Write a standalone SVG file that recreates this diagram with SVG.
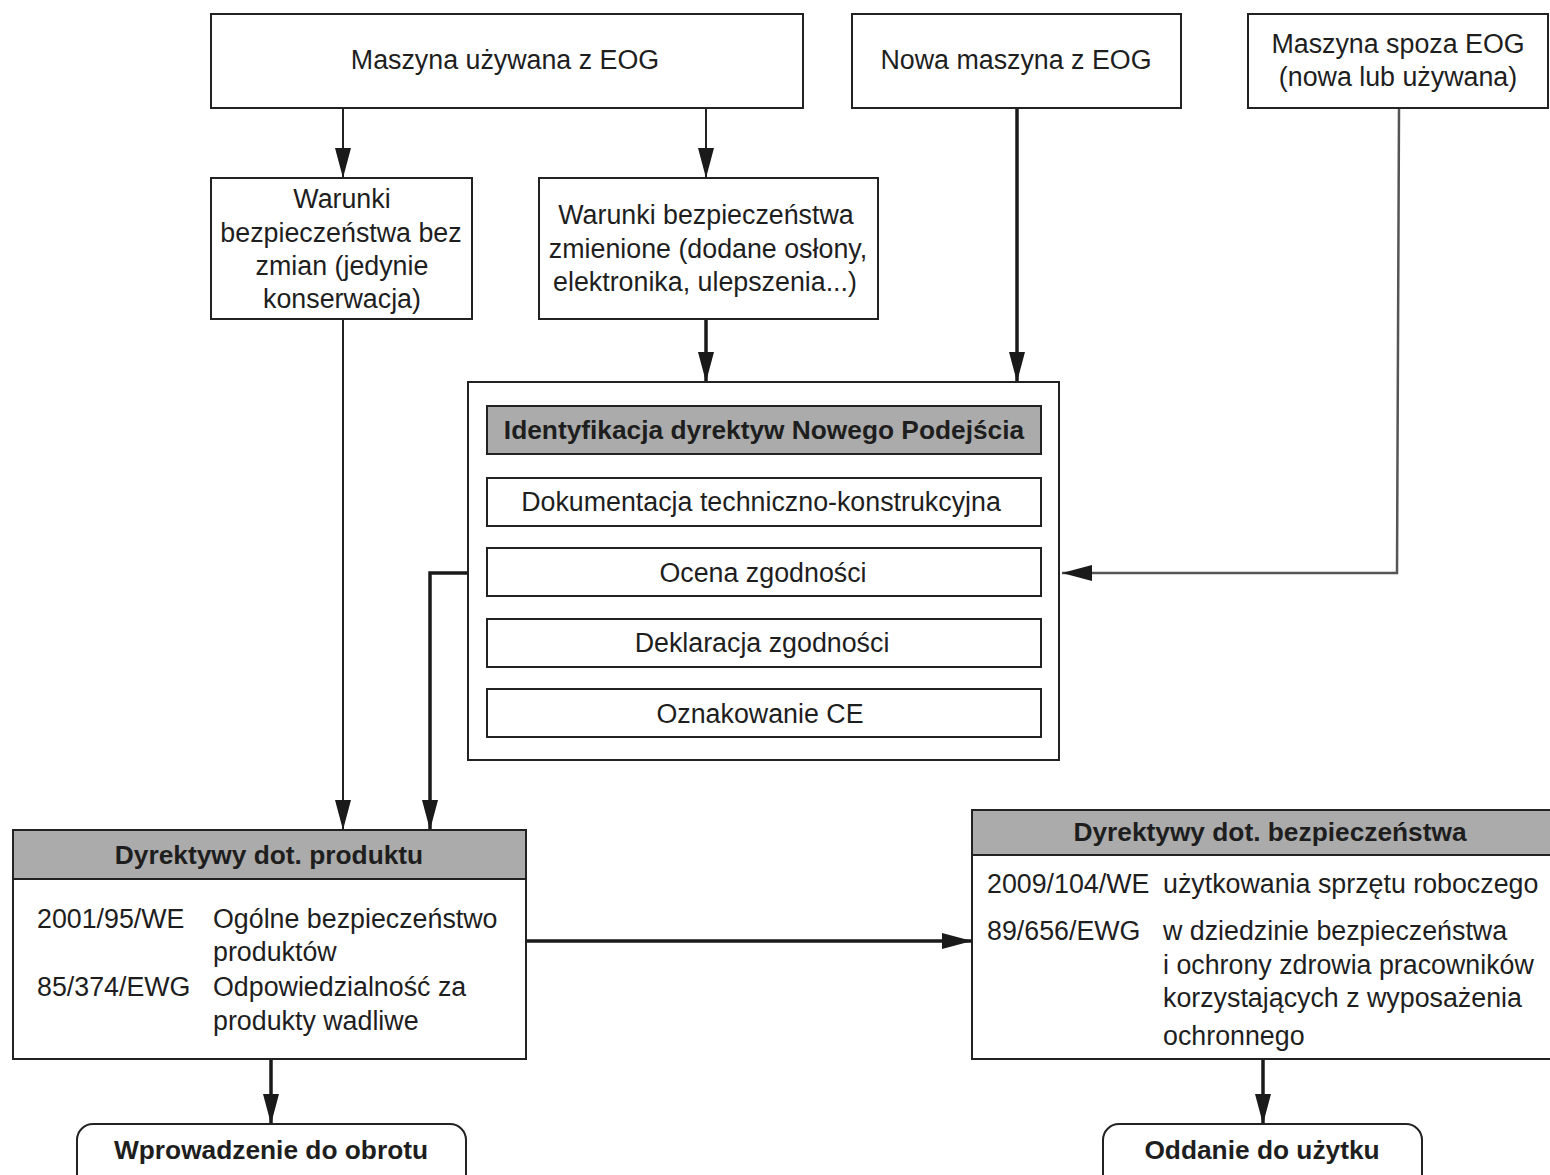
<svg xmlns="http://www.w3.org/2000/svg" width="1550" height="1175" viewBox="0 0 1550 1175">
<style>
text{font-family:"Liberation Sans",Arial,Helvetica,sans-serif;font-size:26.8px;fill:#1e1e1e}
.c{text-anchor:middle}
.b{font-weight:bold;font-size:26.3px}
.box{fill:#fff;stroke:#222;stroke-width:2}
.hdr{fill:#ababab;stroke:#222;stroke-width:2}
.thin{fill:none;stroke:#222;stroke-width:2}
.thick{fill:none;stroke:#1a1a1a;stroke-width:3.5}
.grey{fill:none;stroke:#555;stroke-width:2.5}
</style>
<defs>
<marker id="ah" markerUnits="userSpaceOnUse" markerWidth="30" markerHeight="16" refX="30" refY="8" orient="auto">
<path d="M0,0 L30,8 L0,16 z" fill="#1a1a1a"/>
</marker>
</defs>
<rect width="1550" height="1175" fill="#fff"/>

<g id="connectors">
<path class="thin" d="M343,108 V178" marker-end="url(#ah)"/>
<path class="thin" d="M706,108 V178" marker-end="url(#ah)"/>
<path class="thick" d="M706,319 V382" marker-end="url(#ah)"/>
<path class="thick" d="M1017,108 V382" marker-end="url(#ah)"/>
<path class="grey" d="M1399,108 L1397,573 H1062" marker-end="url(#ah)"/>
<path class="thin" d="M343,319 V830" marker-end="url(#ah)"/>
<path class="thick" d="M468,573 H430 V830" marker-end="url(#ah)"/>
<path class="thick" d="M526,941 H972" marker-end="url(#ah)"/>
<path class="thick" d="M271,1059 V1124" marker-end="url(#ah)"/>
<path class="thick" d="M1263,1059 V1124" marker-end="url(#ah)"/>
</g>

<g id="n-uzywana">
<rect class="box" x="211" y="14" width="592" height="94"/>
<text class="c" x="505" y="69">Maszyna używana z EOG</text>
</g>
<g id="n-nowa">
<rect class="box" x="852" y="14" width="329" height="94"/>
<text class="c" x="1016" y="69">Nowa maszyna z EOG</text>
</g>
<g id="n-spoza">
<rect class="box" x="1248" y="14" width="300" height="94"/>
<text class="c" x="1398" y="53">Maszyna spoza EOG</text>
<text class="c" x="1398" y="86">(nowa lub używana)</text>
</g>
<g id="n-bezzmian">
<rect class="box" x="211" y="178" width="261" height="141"/>
<text class="c" x="342" y="208">Warunki</text>
<text class="c" x="341" y="242">bezpieczeństwa bez</text>
<text class="c" x="342" y="275">zmian (jedynie</text>
<text class="c" x="342" y="308">konserwacja)</text>
</g>
<g id="n-zmienione">
<rect class="box" x="539" y="178" width="339" height="141"/>
<text class="c" x="706" y="224">Warunki bezpieczeństwa</text>
<text class="c" x="708" y="258">zmienione (dodane osłony,</text>
<text class="c" x="705" y="291">elektronika, ulepszenia...)</text>
</g>
<g id="n-identyfikacja">
<rect class="box" x="468" y="382" width="591" height="378"/>
<rect class="hdr" x="487" y="406" width="554" height="48"/>
<text class="c b" x="764" y="439">Identyfikacja dyrektyw Nowego Podejścia</text>
<rect class="box" x="487" y="478" width="554" height="48"/>
<text class="c" x="761" y="511">Dokumentacja techniczno-konstrukcyjna</text>
<rect class="box" x="487" y="548" width="554" height="48"/>
<text class="c" x="763" y="582">Ocena zgodności</text>
<rect class="box" x="487" y="619" width="554" height="48"/>
<text class="c" x="762" y="652">Deklaracja zgodności</text>
<rect class="box" x="487" y="689" width="554" height="48"/>
<text class="c" x="760" y="723">Oznakowanie CE</text>
</g>
<g id="n-produkt">
<rect class="box" x="13" y="830" width="513" height="229"/>
<rect class="hdr" x="13" y="830" width="513" height="49"/>
<text class="c b" x="269" y="864">Dyrektywy dot. produktu</text>
<text x="37" y="928">2001/95/WE</text>
<text x="213" y="928">Ogólne bezpieczeństwo</text>
<text x="213" y="961">produktów</text>
<text x="37" y="996">85/374/EWG</text>
<text x="213" y="996">Odpowiedzialność za</text>
<text x="213" y="1030">produkty wadliwe</text>
</g>
<g id="n-bezpieczenstwo">
<rect class="box" x="972" y="810" width="600" height="249"/>
<rect class="hdr" x="972" y="810" width="600" height="45"/>
<text class="c b" x="1270" y="841">Dyrektywy dot. bezpieczeństwa</text>
<text x="987" y="893">2009/104/WE</text>
<text x="1163" y="893">użytkowania sprzętu roboczego</text>
<text x="987" y="940">89/656/EWG</text>
<text x="1163" y="940">w dziedzinie bezpieczeństwa</text>
<text x="1163" y="974">i ochrony zdrowia pracowników</text>
<text x="1163" y="1007">korzystających z wyposażenia</text>
<text x="1163" y="1045">ochronnego</text>
</g>
<g id="n-obrot">
<rect class="box" x="77" y="1124" width="389" height="70" rx="16"/>
<text class="c b" x="271" y="1159">Wprowadzenie do obrotu</text>
</g>
<g id="n-uzytek">
<rect class="box" x="1103" y="1124" width="319" height="70" rx="16"/>
<text class="c b" x="1262" y="1159">Oddanie do użytku</text>
</g>
</svg>
